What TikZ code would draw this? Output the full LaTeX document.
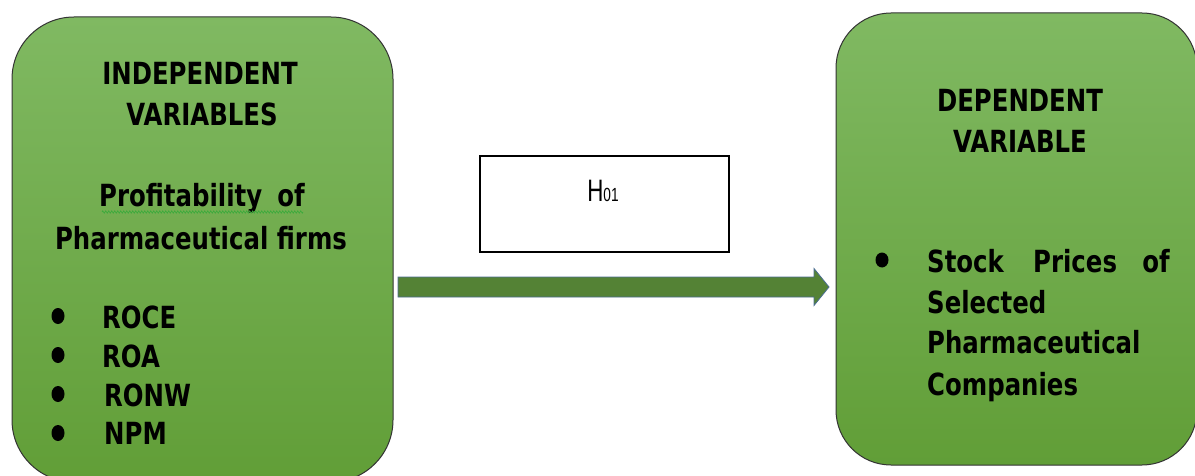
\documentclass[tikz,border=0pt]{standalone}
\usepackage{fontspec}
\setmainfont{DejaVu Sans}[FakeStretch=0.8]
\newfontfamily\hfont{Liberation Sans}[FakeStretch=0.72]
\usetikzlibrary{calc,decorations.pathmorphing}
\definecolor{boxtop}{RGB}{128,185,98}
\definecolor{boxbot}{RGB}{97,158,55}
\definecolor{arrowfill}{RGB}{84,130,53}
\definecolor{arrowedge}{RGB}{75,110,145}
\definecolor{squiggle}{RGB}{60,170,60}
\tikzset{
  greenbox/.style={draw=black!80, line width=1pt, shading=axis, top color=boxtop, bottom color=boxbot, inner sep=0pt},
  hbox/.style={draw=black, line width=1.2pt, fill=white, inner sep=0pt},
  txt/.style={inner sep=0pt, font=\fontsize{30.5}{30.5}\selectfont\bfseries, text=black},
}
\begin{document}
\begin{tikzpicture}[x=1pt,y=-1pt]
\useasboundingbox (0,0) rectangle (1195,476);
\clip (0,0) rectangle (1195,476);
\fill[white] (0,0) rectangle (1195,476);
% boxes
\node[greenbox, minimum width=381pt, minimum height=465pt, rounded corners=62pt] (L) at (202.5,249.5) {};
\node[greenbox, minimum width=361pt, minimum height=452pt, rounded corners=55pt] (R) at (1016.5,239) {};
\node[hbox, minimum width=249pt, minimum height=96pt] (H) at (604.5,204) {};
\node[inner sep=0pt, anchor=base, font=\hfont\fontsize{31}{31}\selectfont] (Ht) at (603,202) {H{\fontsize{19}{19}\selectfont 01}};
% arrow
\coordinate (A) at (398,287);
\coordinate (B) at (829,287);
\filldraw[fill=arrowfill, draw=arrowedge, line width=0.8pt, line join=miter]
  ($(A)+(0,-10)$) -- ($(B)+(-15,-10)$) -- ($(B)+(-15,-18.5)$) -- (B) -- ($(B)+(-15,18.5)$) -- ($(B)+(-15,10)$) -- ($(A)+(0,10)$) -- cycle;
% left text
\node[txt, anchor=base] (l1) at (200,85) {INDEPENDENT};
\node[txt, anchor=base] (l2) at (202,126) {VARIABLES};
\node[txt, anchor=base] (l3) at (202,207) {Profitability\hspace{0.5em}of};
\draw[squiggle, line width=0.6pt, decorate, decoration={zigzag, segment length=3pt, amplitude=1.2pt}] (102,212) -- (303,212);
\node[txt, anchor=base] (l4) at (201,249) {Pharmaceutical firms};
\foreach \y/\yb/\t/\xx in {316/328/ROCE/102, 355/367/ROA/102, 394/406/RONW/104, 433/444/NPM/104}{
  \fill[black] (58,\y) ellipse [x radius=6.5pt, y radius=8pt];
  \node[txt, anchor=base west] at (\xx,\yb) {\t};
}
% right text
\node[txt, anchor=base] (r1) at (1020,112) {DEPENDENT};
\node[txt, anchor=base] (r2) at (1020,153) {VARIABLE};
\fill[black] (882,260) ellipse [x radius=6.5pt, y radius=7.5pt];
\node[txt, anchor=base west] (r3) at (927,272) {Stock};
\node[txt, anchor=base west] (r4) at (1033,272) {Prices};
\node[txt, anchor=base east] (r5) at (1170,272) {of};
\node[txt, anchor=base west] (r6) at (927,313) {Selected};
\node[txt, anchor=base west] (r7) at (927,353) {Pharmaceutical};
\node[txt, anchor=base west] (r8) at (927,395) {Companies};
\end{tikzpicture}
\end{document}
